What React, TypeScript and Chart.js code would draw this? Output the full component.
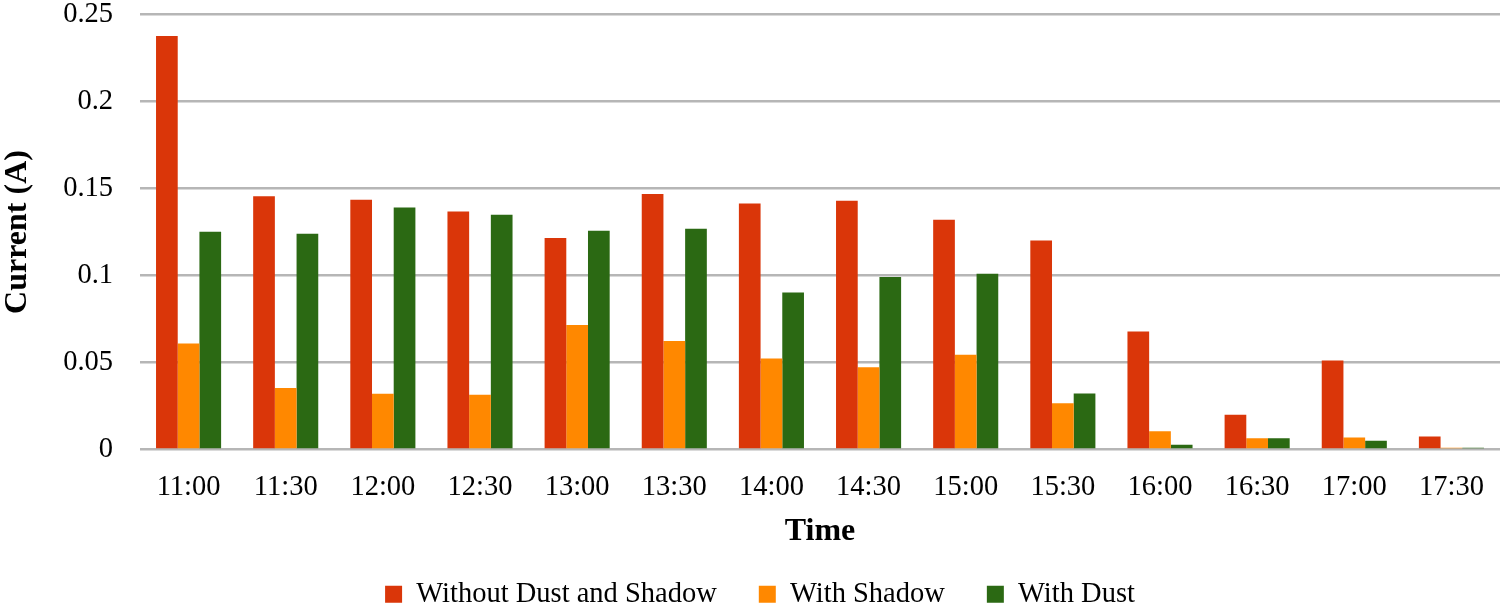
import React, { useEffect, useRef } from 'react';
import { Chart, registerables } from 'chart.js';

Chart.register(...registerables);

const categories = ['11:00', '11:30', '12:00', '12:30', '13:00', '13:30', '14:00', '14:30', '15:00', '15:30', '16:00', '16:30', '17:00', '17:30'];
const withoutDustAndShadow = [0.2376, 0.1456, 0.1435, 0.1368, 0.1216, 0.1469, 0.1414, 0.1429, 0.132, 0.1201, 0.0678, 0.0199, 0.0511, 0.0075];
const withShadow = [0.0609, 0.0354, 0.032, 0.0314, 0.0715, 0.0623, 0.0523, 0.0473, 0.0544, 0.0266, 0.0105, 0.0065, 0.0069, 0.001];
const withDust = [0.1251, 0.124, 0.1391, 0.1349, 0.1257, 0.1268, 0.0902, 0.0992, 0.101, 0.0322, 0.0027, 0.0065, 0.005, 0.001];
const yTicks = [0, 0.05, 0.1, 0.15, 0.2, 0.25];
const seriesNames = ['Without Dust and Shadow', 'With Shadow', 'With Dust'];
const seriesColors = ['#DA3609', '#FF8800', '#2B6913'];

const LEGEND_HEIGHT = 40;
const LEGEND_SHIFT = 30;
const LEGEND_DX = 10;

const legendSpacing = {
  id: 'legendSpacing',
  beforeUpdate(chart: any) {
    const lg: any = chart.legend;
    if (!lg || lg.__patched) return;
    lg.__patched = true;
    const origFit = lg.fit.bind(lg);
    lg.fit = function () {
      origFit();
      this.height = LEGEND_HEIGHT;
    };
    const origDraw = lg.draw.bind(lg);
    lg.draw = function () {
      const t = this.top, l = this.left, r = this.right;
      this.top = t - LEGEND_SHIFT;
      this.left = l + LEGEND_DX;
      this.right = r + LEGEND_DX;
      origDraw();
      this.top = t;
      this.left = l;
      this.right = r;
    };
  },
};

export default function App() {
  const ref = useRef<HTMLCanvasElement | null>(null);

  useEffect(() => {
    if (!ref.current) return;
    Chart.defaults.font.family = '"Liberation Serif", "Times New Roman", serif';
    Chart.defaults.color = '#000';
    const seriesData = [withoutDustAndShadow, withShadow, withDust];
    const chart = new Chart(ref.current, {
      type: 'bar',
      data: {
        labels: categories,
        datasets: seriesNames.map((name, i) => ({
          label: name,
          data: seriesData[i],
          backgroundColor: seriesColors[i],
          borderWidth: 0,
          categoryPercentage: 0.67,
          barPercentage: 1.0,
        })),
      },
      plugins: [legendSpacing],
      options: {
        responsive: true,
        maintainAspectRatio: false,
        animation: false,
        events: [],
        layout: { padding: { top: 14.5, left: 0, right: 0, bottom: 0 } },
        plugins: {
          tooltip: { enabled: false },
          legend: {
            position: 'bottom',
            labels: {
              boxWidth: 17,
              boxHeight: 17,
              padding: 42,
              font: { size: 28.5 },
              color: '#000',
            },
          },
        },
        scales: {
          x: {
            grid: { display: false, drawTicks: false },
            border: { display: false },
            ticks: { font: { size: 28.5 }, padding: 21, color: '#000', maxRotation: 0, autoSkip: false },
            title: {
              display: true,
              text: 'Time',
              color: '#000',
              font: { size: 32, weight: 'bold' },
              padding: { top: 0, bottom: 17 },
            },
            afterFit: (s: any) => {
              s.height = 118.5;
              s.paddingLeft = 0;
              s.paddingRight = 0;
            },
          },
          y: {
            min: 0,
            max: 0.25,
            grid: { color: '#b6b6b6', lineWidth: 2.4, drawTicks: false },
            border: { display: false },
            afterBuildTicks: (s: any) => {
              s.ticks = yTicks.map((v) => ({ value: v }));
            },
            ticks: {
              font: { size: 28.5 },
              padding: 27,
              color: '#000',
              callback: (v: any) => Number(v).toFixed(2).replace(/\.?0+$/, ''),
            },
            title: {
              display: true,
              text: 'Current (A)',
              color: '#000',
              font: { size: 32, weight: 'bold', lineHeight: 1.1 },
              padding: { top: 0, bottom: 0 },
            },
            afterFit: (s: any) => {
              s.width = 140;
              s.paddingTop = 0;
              s.paddingBottom = 0;
            },
          },
        },
      },
    } as any);
    return () => chart.destroy();
  }, []);

  return (
    <div style={{ position: 'absolute', left: 0, top: 0, width: 1500, height: 608, background: '#fff' }}>
      <canvas ref={ref} />
    </div>
  );
}
